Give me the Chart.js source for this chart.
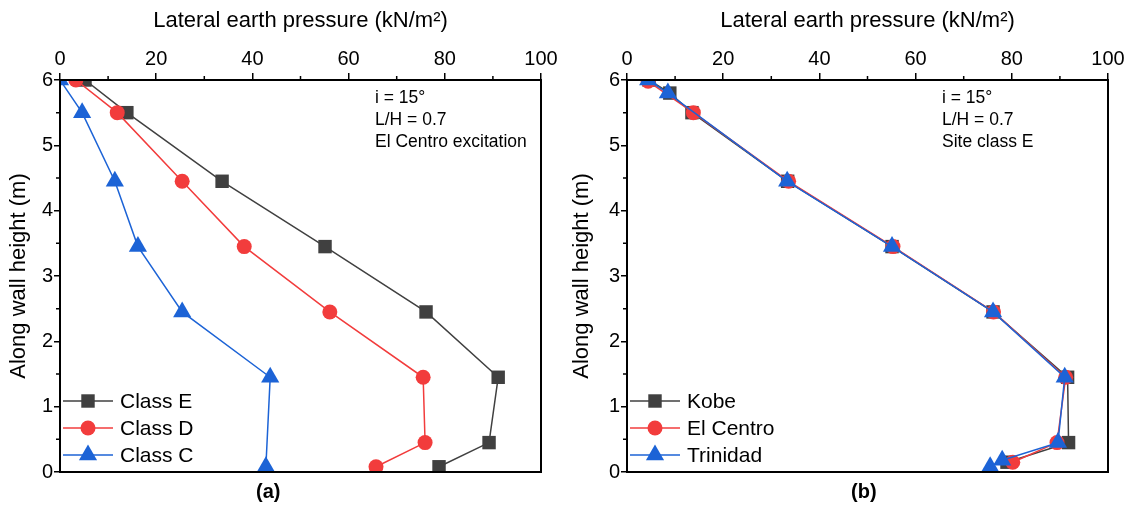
<!DOCTYPE html>
<html>
<head>
<meta charset="utf-8">
<script src="https://cdn.jsdelivr.net/npm/chart.js@4.4.0/dist/chart.umd.min.js"></script>
<style>
  body { margin: 0; background: #fff; width: 1127px; height: 508px; position: relative; overflow: hidden;
         font-family: "Liberation Sans", Arial, sans-serif; }
  .panel { position: absolute; top: 0; height: 508px; }
  .cap { position: absolute; top: 480px; font-weight: bold; font-size: 20px; color: #000; }
</style>
</head>
<body>
<div class="panel" style="left:0;width:563px"><canvas id="chartA"></canvas></div>
<div class="panel" style="left:563px;width:564px"><canvas id="chartB"></canvas></div>
<div class="cap" style="left:256px">(a)</div>
<div class="cap" style="left:851px">(b)</div>
<script>
// panel (a): soil classes, El Centro excitation
const heightsE = [6, 5.5, 4.45, 3.45, 2.45, 1.45, 0.45, 0.08];
const classE   = [5.2, 13.9, 33.7, 55.1, 76.1, 91.1, 89.2, 78.8];
const heightsD = [6, 5.5, 4.45, 3.45, 2.45, 1.45, 0.45, 0.08];
const classD   = [3.3, 11.9, 25.4, 38.3, 56.1, 75.5, 75.9, 65.7];
const heightsC = [6, 5.5, 4.45, 3.45, 2.45, 1.45, 0.08];
const classC   = [0, 4.6, 11.4, 16.2, 25.4, 43.7, 42.8];

// panel (b): excitations, site class E
const heightsKobe = [6, 5.8, 5.5, 4.45, 3.45, 2.45, 1.45, 0.45, 0.15];
const kobe        = [4.6, 8.9, 13.5, 33.4, 55.1, 76.1, 91.6, 91.8, 79.0];
const heightsElCentro = [5.98, 5.5, 4.45, 3.45, 2.45, 1.45, 0.45, 0.15];
const elCentro        = [4.4, 13.8, 33.6, 55.3, 76.2, 91.2, 89.4, 80.2];
const heightsTrinidad = [6, 5.8, 4.45, 3.45, 2.45, 1.45, 0.45, 0.18, 0.08];
const trinidad        = [4.4, 8.5, 33.3, 55.1, 76.1, 91.0, 89.6, 78.0, 75.5];

const minorXTicks = [10, 30, 50, 70, 90];
const minorYTicks = [0.5, 1.5, 2.5, 3.5, 4.5, 5.5];
const notesA = ['i = 15°', 'L/H = 0.7', 'El Centro excitation'];
const notesB = ['i = 15°', 'L/H = 0.7', 'Site class E'];

const GRAY = '#404040', RED = '#f23c3c', BLUE = '#1c63d6';
const FONT = '"Liberation Sans", Arial, sans-serif';

function pts(xs, ys) {
  return xs.map((v, i) => ({ x: v, y: ys[i] }));
}

function series(label, xs, ys, color, style, radius, order) {
  return {
    label: label,
    data: pts(xs, ys),
    showLine: true,
    borderColor: color,
    backgroundColor: color,
    borderWidth: 1.5,
    pointStyle: style,
    pointRadius: radius,
    pointBorderWidth: 0,
    pointBackgroundColor: color,
    order: order
  };
}

// frame, minor ticks, inline legend and notes
const extras = {
  id: 'extras',
  afterDraw(chart, args, opts) {
    const ctx = chart.ctx, a = chart.chartArea;
    const x = chart.scales.x, y = chart.scales.y;
    ctx.save();
    ctx.strokeStyle = '#000';
    ctx.lineWidth = 2;
    ctx.strokeRect(a.left, a.top, a.right - a.left, a.bottom - a.top);
    ctx.lineWidth = 1.5;
    ctx.beginPath();
    minorXTicks.forEach(v => {
      const px = x.getPixelForValue(v);
      ctx.moveTo(px, a.top); ctx.lineTo(px, a.top - 4);
    });
    minorYTicks.forEach(v => {
      const py = y.getPixelForValue(v);
      ctx.moveTo(a.left, py); ctx.lineTo(a.left - 4, py);
    });
    ctx.stroke();

    // legend in the lower left corner
    const sets = chart.data.datasets;
    ctx.font = '21px ' + FONT;
    ctx.textBaseline = 'middle';
    opts.legendOrder.forEach((di, row) => {
      const ds = sets[di];
      const ly = a.bottom - 71 + row * 27;
      const lx = a.left + 3;
      ctx.strokeStyle = ds.borderColor;
      ctx.fillStyle = ds.borderColor;
      ctx.lineWidth = 1.5;
      ctx.beginPath(); ctx.moveTo(lx, ly); ctx.lineTo(lx + 50, ly); ctx.stroke();
      Chart.helpers.drawPoint(ctx, { pointStyle: ds.pointStyle, radius: ds.pointRadius, rotation: 0, borderWidth: 0 }, lx + 25, ly);
      ctx.fillStyle = '#000';
      ctx.fillText(ds.label, lx + 57, ly + 1);
    });

    // notes in the upper right
    ctx.font = '17.5px ' + FONT;
    ctx.fillStyle = '#000';
    opts.notes.forEach((t, i) => {
      ctx.fillText(t, a.left + 315, a.top + 18 + i * 22);
    });
    ctx.restore();
  }
};

function makeChart(id, datasets, yWidth, padRight, notes, legendOrder) {
  return new Chart(document.getElementById(id), {
    type: 'scatter',
    data: { datasets: datasets },
    options: {
      responsive: true,
      maintainAspectRatio: false,
      animation: false,
      layout: { padding: { left: 0, right: padRight, top: 0, bottom: 36 } },
      plugins: { legend: { display: false }, tooltip: { enabled: false }, extras: { notes: notes, legendOrder: legendOrder } },
      scales: {
        x: {
          type: 'linear', position: 'top', min: 0, max: 100,
          afterFit: s => { s.height = 80; },
          ticks: { stepSize: 20, color: '#000', font: { size: 20, family: FONT }, padding: 2 },
          grid: { drawOnChartArea: false, drawTicks: true, tickLength: 7, color: '#000', lineWidth: 1.5 },
          border: { color: '#000', width: 2 },
          title: { display: true, text: 'Lateral earth pressure (kN/m²)', color: '#000',
                   font: { size: 22, family: FONT }, padding: { top: 8, bottom: 2 } }
        },
        y: {
          type: 'linear', position: 'left', min: 0, max: 6,
          afterFit: s => { s.width = yWidth; },
          ticks: { stepSize: 1, color: '#000', font: { size: 20, family: FONT }, padding: 1 },
          grid: { drawOnChartArea: false, drawTicks: true, tickLength: 6, color: '#000', lineWidth: 1.5 },
          border: { color: '#000', width: 2 },
          title: { display: true, text: 'Along wall height (m)', color: '#000',
                   font: { size: 22, family: FONT }, padding: { top: 6, bottom: 0 } }
        }
      }
    },
    plugins: [extras]
  });
}

makeChart('chartA', [
  series('Class E', classE, heightsE, GRAY, 'rect', 9.5, 3),
  series('Class D', classD, heightsD, RED, 'circle', 7.5, 2),
  series('Class C', classC, heightsC, BLUE, 'triangle', 10.5, 1)
], 60, 22, notesA, [0, 1, 2]);

makeChart('chartB', [
  series('Kobe', kobe, heightsKobe, GRAY, 'rect', 9.5, 3),
  series('El Centro', elCentro, heightsElCentro, RED, 'circle', 7.5, 2),
  series('Trinidad', trinidad, heightsTrinidad, BLUE, 'triangle', 10.5, 1)
], 64, 19, notesB, [0, 1, 2]);
</script>
</body>
</html>
